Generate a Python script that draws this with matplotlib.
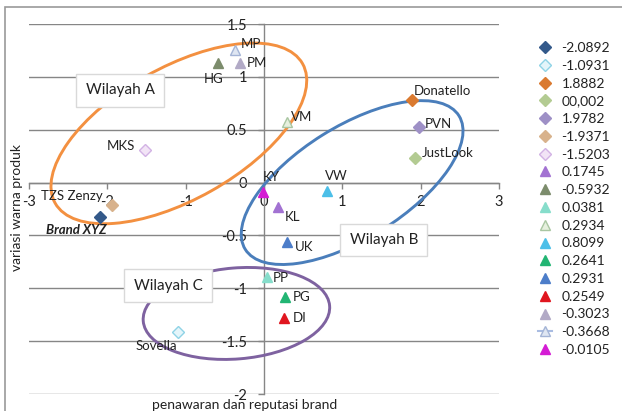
import matplotlib
matplotlib.use("Agg")
import matplotlib.pyplot as plt
from matplotlib.patches import Ellipse, Rectangle
from matplotlib.transforms import ScaledTranslation

plt.rcParams['font.family'] = ['Lato', 'DejaVu Sans']
plt.rcParams['axes.unicode_minus'] = False

# Brand positions: x = penawaran dan reputasi brand, y = variasi warna produk
brands = ["Brand XYZ", "Sovella", "Donatello", "JustLook", "PVN", "TZS Zenzy", "MKS",
          "KL", "HG", "PP", "VM", "VW", "PG", "UK", "DI", "PM", "MP", "KY"]
series_names = ["-2.0892", "-1.0931", "1.8882", "00,002", "1.9782", "-1.9371", "-1.5203",
                "0.1745", "-0.5932", "0.0381", "0.2934", "0.8099", "0.2641", "0.2931",
                "0.2549", "-0.3023", "-0.3668", "-0.0105"]
x_vals = [-2.0892, -1.0931, 1.8882, 1.93, 1.9782, -1.9371, -1.5203,
          0.1745, -0.5932, 0.0381, 0.2934, 0.8099, 0.2641, 0.2931,
          0.2549, -0.3023, -0.3668, -0.0105]
y_vals = [-0.33, -1.41, 0.78, 0.23, 0.53, -0.21, 0.31,
          -0.23, 1.13, -0.89, 0.57, -0.08, -1.08, -0.56,
          -1.28, 1.13, 1.25, -0.09]

markers = ["D"] * 7 + ["^"] * 11
face_colors = ["#33598A", "#E4F5FA", "#DA7A30", "#B3CB92", "#9E90C6", "#D8B28C", "#F2E4F6",
               "#A272D2", "#7C8C6C", "#86DDCB", "#E6F0DE", "#4CBFE8", "#22B573", "#4C7DC9",
               "#E0161F", "#B2AAC6", "#DFE6F2", "#D41CD4"]
edge_colors = ["#33598A", "#8FD3E6", "#DA7A30", "#B3CB92", "#9E90C6", "#D8B28C", "#D2B2E4",
               "#A272D2", "#7C8C6C", "#86DDCB", "#A9C6A2", "#4CBFE8", "#22B573", "#4C7DC9",
               "#E0161F", "#B2AAC6", "#A4B4D6", "#D41CD4"]

# label offsets (points) and alignment for each brand name
label_offsets = [(-17, -9), (-16, -10), (1.5, 6.5), (5, 3.5), (4.5, 2), (-7, 6), (-7, 3),
                 (5, -7), (-3, -11.5), (4.5, -0.7), (2.5, 3.5), (6.5, 11), (6, 0), (6, -3.5),
                 (6, 0), (4.5, 0), (3.6, 4.3), (0, 11)]
label_ha = ["center", "center", "left", "left", "left", "right", "right",
            "left", "center", "left", "left", "center", "left", "left",
            "left", "left", "left", "left"]

regions = ["Wilayah A", "Wilayah B", "Wilayah C"]
region_centers = [(-1.087, 0.465), (1.125, 0.0), (-0.352, -1.238)]
region_sizes = [(2.84, 1.32, 29.4), (2.52, 1.12, 32.0), (1.87, 0.91, 4.7)]  # inches, degrees
region_colors = ["#F39040", "#4A7EBB", "#7E62A0"]
region_box_pos = [(-1.835, 0.871), (1.528, -0.543), (-1.221, -0.974)]

x_ticks = [-3, -2, -1, 0, 1, 2, 3]
y_ticks = [-2, -1.5, -1, -0.5, 0, 0.5, 1, 1.5]
y_tick_labels = ["-2", "-1.5", "-1", "-0.5", "0", "0.5", "1", "1.5"]

fig = plt.figure(figsize=(6.22, 4.11), dpi=100)
fig.patch.set_facecolor("white")
ax = fig.add_axes([29 / 622, 17 / 411, 470 / 622, 370 / 411])
ax.set_xlim(-3, 3)
ax.set_ylim(-2, 1.5)

grey = "#868686"
for side in ("top", "right"):
    ax.spines[side].set_visible(False)
ax.spines["left"].set_position(("data", 0))
ax.spines["bottom"].set_position(("data", 0))
for side in ("left", "bottom"):
    ax.spines[side].set_color(grey)
    ax.spines[side].set_linewidth(1)
    ax.spines[side].set_zorder(1)

ax.set_xticks(x_ticks)
ax.set_xticklabels([str(t) for t in x_ticks])
ax.set_yticks(y_ticks)
ax.set_yticklabels(y_tick_labels)
ax.tick_params(axis="both", colors=grey, labelcolor="#222222", labelsize=10.5,
               length=4, width=1, direction="out")
ax.tick_params(axis="x", pad=5)
ax.tick_params(axis="y", pad=8)
ax.yaxis.grid(True, color=grey, linewidth=1)
ax.set_axisbelow(True)

ax.set_xlabel("penawaran dan reputasi brand", fontsize=10, color="#222222")
ax.xaxis.set_label_coords((245 - 29) / 470, -0.031)
ax.xaxis.label.set_va("center")
ax.set_ylabel("variasi warna produk", fontsize=10, color="#222222")
ax.yaxis.set_label_coords(-0.0255, 0.505)
ax.yaxis.label.set_va("center")

# region outlines
for (cx, cy), (w, h, ang), col in zip(region_centers, region_sizes, region_colors):
    tr = fig.dpi_scale_trans + ScaledTranslation(cx, cy, ax.transData)
    ax.add_patch(Ellipse((0, 0), w, h, angle=ang, transform=tr, fill=False,
                         edgecolor=col, linewidth=2.1, zorder=2, clip_on=False))

# brand markers
for i in range(len(brands)):
    ls = "-" if brands[i] == "MP" else "none"
    ax.plot([x_vals[i]], [y_vals[i]], linestyle=ls, color="#A9BCE2", linewidth=1.5,
            marker=markers[i], markersize=6.5 if markers[i] == "D" else 7.5,
            markerfacecolor=face_colors[i], markeredgecolor=edge_colors[i],
            markeredgewidth=1, label=series_names[i], zorder=4, clip_on=False)
    ax.annotate(brands[i], (x_vals[i], y_vals[i]), xytext=label_offsets[i],
                textcoords="offset points", ha=label_ha[i], va="center",
                fontsize=9.5, color="#222222", zorder=5,
                fontweight="bold" if brands[i] == "Brand XYZ" else "normal",
                fontstyle="italic" if brands[i] == "Brand XYZ" else "normal")

# region boxes
for name, (bx, by) in zip(regions, region_box_pos):
    ax.text(bx, by, name, ha="center", va="center", fontsize=11, color="#222222", zorder=6,
            bbox=dict(boxstyle="square,pad=0.62", facecolor="white", edgecolor="#D9D9D9",
                      linewidth=1))

leg = fig.legend(loc="upper left", bbox_to_anchor=(538 / 622, 1 - 42 / 411),
                 frameon=False, fontsize=10, handlelength=1.0, handletextpad=0.7,
                 labelspacing=0.415, borderaxespad=0, borderpad=0, labelcolor="#222222")

# chart frame
fig.add_artist(Rectangle((5 / 622, -0.1), 1.2, 1.1 - 7 / 411, transform=fig.transFigure,
                         fill=False, edgecolor="#9A9A9A", linewidth=1.2))

fig.savefig("out.png", dpi=100)
